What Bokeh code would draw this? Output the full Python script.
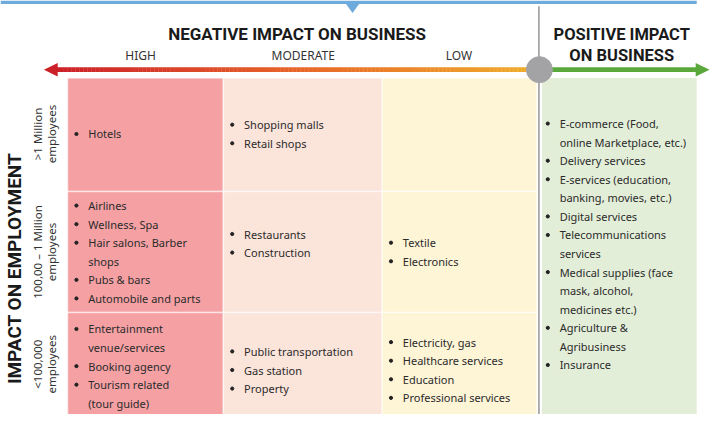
import numpy as np
from bokeh.plotting import figure
from bokeh.models import Range1d
from bokeh.embed import file_html
from bokeh.resources import INLINE
from bokeh.core.properties import value

# ---------------- data ----------------
negative_title = "NEGATIVE IMPACT ON BUSINESS"
positive_title = ["POSITIVE IMPACT", "ON BUSINESS"]
axis_title = "IMPACT ON EMPLOYMENT"
columns = ["HIGH", "MODERATE", "LOW"]
rows = [">1 Million\nemployees", "100,00 – 1 Million\nemployees", "<100,000\nemployees"]

high_large = ["Hotels"]
high_mid = ["Airlines", "Wellness, Spa", "Hair salons, Barber\nshops", "Pubs & bars", "Automobile and parts"]
high_small = ["Entertainment\nvenue/services", "Booking agency", "Tourism related\n(tour guide)"]
mod_large = ["Shopping malls", "Retail shops"]
mod_mid = ["Restaurants", "Construction"]
mod_small = ["Public transportation", "Gas station", "Property"]
low_large = []
low_mid = ["Textile", "Electronics"]
low_small = ["Electricity, gas", "Healthcare services", "Education", "Professional services"]
positive = ["E-commerce (Food,\nonline Marketplace, etc.)", "Delivery services",
            "E-services (education,\nbanking, movies, etc.)", "Digital services",
            "Telecommunications\nservices", "Medical supplies (face\nmask, alcohol,\nmedicines etc.)",
            "Agriculture &\nAgribusiness", "Insurance"]

grid = [[high_large, mod_large, low_large],
        [high_mid, mod_mid, low_mid],
        [high_small, mod_small, low_small]]

# ---------------- layout / style ----------------
W, H = 710, 414
p = figure(width=W, height=H, output_backend="svg", toolbar_location=None,
           x_range=Range1d(0, 720), y_range=Range1d(428, 0),
           min_border=0)
p.axis.visible = False
p.grid.visible = False
p.outline_line_color = None
p.background_fill_color = "white"

BODY = value("Noto Sans")
HEAD = value("Roboto")
TXT = "#2b2b2b"

col_edges = [68, 226, 387, 544]
row_edges = [80, 197.5, 322.5, 440]
col_fill = ["#f5a1a4", "#fbe4da", "#fef4d6"]
row_centers = [138, 260, 382]
cell_center_adj = {(1, 1): -9, (2, 0): -4}
green_edges = (549, 706)
green_fill = "#e3eed8"
LS = 19.2

# cells
for r in range(3):
    for c in range(3):
        p.quad(left=col_edges[c], right=col_edges[c + 1], top=row_edges[r], bottom=row_edges[r + 1],
               fill_color=col_fill[c], line_color="white", line_alpha=0.55, line_width=1.5)
p.quad(left=green_edges[0], right=green_edges[1], top=row_edges[0], bottom=row_edges[-1],
       fill_color=green_fill, line_color=None)


def draw_list(items, x_left, yc, bullet_dx=9, text_dx=21):
    lines, bullets = [], []
    for it in items:
        parts = it.split("\n")
        for k, part in enumerate(parts):
            lines.append(part)
            bullets.append(k == 0)
    n = len(lines)
    if n == 0:
        return
    ys = [yc - (n - 1) / 2 * LS + i * LS for i in range(n)]
    p.text(x=[x_left + text_dx] * n, y=ys, text=lines, text_font=BODY, text_font_size="11px",
           text_color=TXT, text_baseline="middle", text_align="left")
    bx = [x_left + bullet_dx for b in bullets if b]
    by = [y for y, b in zip(ys, bullets) if b]
    p.scatter(x=bx, y=by, size=3.2, color="#222222", marker="circle")


for r in range(3):
    for c in range(3):
        yc = row_centers[r] + cell_center_adj.get((r, c), 0)
        draw_list(grid[r][c], col_edges[c], yc)
draw_list(positive, 549, 252, bullet_dx=6, text_dx=18)

# vertical divider
p.segment(x0=[546], y0=[6], x1=[546], y1=[440], line_color="#9c9c9c", line_width=1.6)

# gradient arrow (negative)
x0a, x1a = 56, 536
stops = [(0.0, (204, 32, 40)), (0.5, (232, 100, 40)), (1.0, (240, 172, 44))]
nseg = 120
xs = np.linspace(x0a, x1a, nseg + 1)
cols = []
for i in range(nseg):
    t = (i + 0.5) / nseg
    for j in range(len(stops) - 1):
        if stops[j][0] <= t <= stops[j + 1][0]:
            u = (t - stops[j][0]) / (stops[j + 1][0] - stops[j][0])
            cc = [int(stops[j][1][k] + u * (stops[j + 1][1][k] - stops[j][1][k])) for k in range(3)]
            cols.append("#%02x%02x%02x" % tuple(cc))
            break
p.quad(left=xs[:-1], right=xs[1:] + 0.3, top=[69] * nseg, bottom=[74] * nseg,
       fill_color=cols, line_color=None)
p.patch(x=[44, 58, 58], y=[71.5, 64.5, 78.5], fill_color="#cc2028", line_color=None)

# green arrow
p.quad(left=[558], right=[708], top=[69], bottom=[74], fill_color="#5aa83c", line_color=None)
p.patch(x=[719, 705, 705], y=[71.5, 64.5, 78.5], fill_color="#5aa83c", line_color=None)

p.scatter(x=[546.5], y=[71.5], size=26, color="#a3a3a5", marker="circle")

# top blue bar with pointer
p.quad(left=[0], right=[706], top=[0], bottom=[3.5], fill_color="#6eaadb", line_color=None)
p.patch(x=[350, 364, 357], y=[3, 3, 13], fill_color="#6eaadb", line_color=None)

# headers
p.text(x=[301], y=[35], text=[negative_title], text_font=HEAD, text_font_style="bold",
       text_font_size="17px", text_color="#1a1a1a", text_align="center", text_baseline="middle")
p.text(x=[630, 630], y=[35, 57], text=positive_title, text_font=HEAD, text_font_style="bold",
       text_font_size="16.5px", text_color="#1a1a1a", text_align="center", text_baseline="middle")
col_label_x = [142, 307, 465]
p.text(x=col_label_x, y=[57] * 3, text=columns, text_font=BODY, text_font_size="12px",
       text_color="#333333", text_align="center", text_baseline="middle")

# left labels
p.text(x=[14], y=[277], text=[axis_title], angle=np.pi / 2, text_font=HEAD, text_font_style="bold",
       text_font_size="19px", text_color="#1a1a1a", text_align="center", text_baseline="middle")
row_label_y = [138, 260, 376]
for lab, yc in zip(rows, row_label_y):
    a, b = lab.split("\n")
    p.text(x=[38, 52], y=[yc, yc], text=[a, b], angle=np.pi / 2, text_font=BODY,
           text_font_size="11.5px", text_color="#333333", text_align="center", text_baseline="middle")

open("out.html", "w").write(file_html(p, INLINE))
